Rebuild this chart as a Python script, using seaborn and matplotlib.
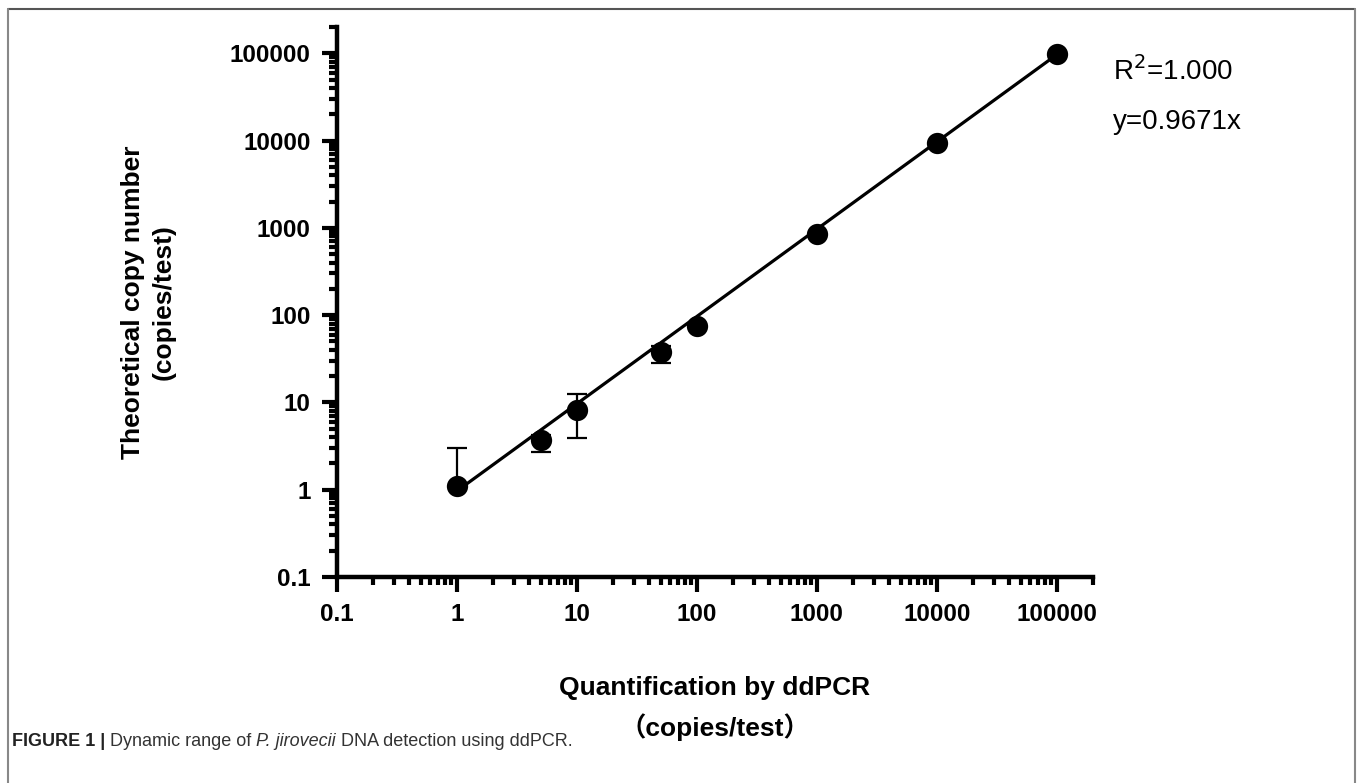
import numpy as np
import pandas as pd
import matplotlib
matplotlib.use("Agg")
import matplotlib.pyplot as plt
from matplotlib.lines import Line2D
from matplotlib.ticker import LogLocator, FixedLocator, NullFormatter
import seaborn as sns

# ---- data ----
x_vals = [1, 5, 10, 50, 100, 1000, 10000, 100000]
y_vals = [1.09, 3.67, 8.2, 38, 76, 850, 9300, 97000]
err_low = [0.0, 0.95, 4.3, 9.5, 0.0, 0.0, 0.0, 0.0]
err_high = [1.9, 0.6, 4.4, 6.0, 0.0, 0.0, 0.0, 0.0]
fit_slope = 0.9671
fit_range = [1, 100000]
tick_vals = [0.1, 1, 10, 100, 1000, 10000, 100000]
tick_labels = ["0.1", "1", "10", "100", "1000", "10000", "100000"]

sns.set_theme(style="white")
plt.rcParams['font.family'] = ['Liberation Sans', 'Noto Sans CJK SC', 'DejaVu Sans']
plt.rcParams['text.color'] = 'black'
plt.rcParams['axes.labelcolor'] = 'black'
plt.rcParams['xtick.color'] = 'black'
plt.rcParams['ytick.color'] = 'black'

df = pd.DataFrame({"x": x_vals, "y": y_vals})
fit_df = pd.DataFrame({"x": fit_range, "y": [fit_slope * v for v in fit_range]})

fig = plt.figure(figsize=(13.58, 7.83), dpi=100)
ax = fig.add_axes([337 / 1358, 1 - 577 / 783, (1093 - 337) / 1358, (577 - 27) / 783])

ax.set_xscale("log")
ax.set_yscale("log")

sns.lineplot(data=fit_df, x="x", y="y", ax=ax, color="black", linewidth=2.3, zorder=2)
ax.errorbar(x_vals, y_vals, yerr=[err_low, err_high], fmt="none", ecolor="black",
            elinewidth=1.6, capsize=7.5, capthick=1.6, zorder=3)
sns.scatterplot(data=df, x="x", y="y", ax=ax, color="black", s=235, edgecolor="black",
                linewidth=0, zorder=4, legend=False)

ax.set_xlim(0.1, 2e5)
ax.set_ylim(0.1, 2e5)

for axis in (ax.xaxis, ax.yaxis):
    axis.set_major_locator(FixedLocator(tick_vals))
    axis.set_minor_locator(LogLocator(base=10, subs=np.arange(2, 10), numticks=20))
    axis.set_minor_formatter(NullFormatter())
ax.set_xticks(tick_vals, tick_labels)
ax.set_yticks(tick_vals, tick_labels)
for lab in ax.get_xticklabels() + ax.get_yticklabels():
    lab.set_fontweight("bold")
    lab.set_fontsize(17.5)
    lab.set_color("black")

ax.tick_params(which="both", bottom=True, left=True, top=False, right=False)
ax.tick_params(which="major", direction="out", length=11, width=3, color="black", pad=8)
ax.tick_params(which="minor", direction="out", length=6, width=3, color="black")

for s in ("top", "right"):
    ax.spines[s].set_visible(False)
for s in ("left", "bottom"):
    ax.spines[s].set_linewidth(3.2)
    ax.spines[s].set_color("black")

ax.set_xlabel("")
ax.set_ylabel("")
fig.text(715 / 1358, 1 - 688 / 783, "Quantification by ddPCR", ha="center", va="center",
         fontsize=19, fontweight="bold")
fig.text(715 / 1358, 1 - 727 / 783, "（copies/test）", ha="center", va="center",
         fontsize=19, fontweight="bold")
fig.text(133 / 1358, 1 - 302 / 783, "Theoretical copy number", ha="center", va="center",
         fontsize=19, fontweight="bold", rotation=90)
fig.text(164 / 1358, 1 - 302 / 783, "(copies/test)", ha="center", va="center",
         fontsize=19, fontweight="bold", rotation=90)

fig.text(1113 / 1358, 1 - 80 / 783, r"R$^2$=1.000", ha="left", va="baseline", fontsize=20)
fig.text(1113 / 1358, 1 - 129 / 783, "y=0.9671x", ha="left", va="baseline", fontsize=20)

# caption
cap_y = 1 - 741 / 783
cap_fs = 13
t1 = fig.text(12 / 1358, cap_y, "FIGURE 1 | ", ha="left", va="center", fontsize=cap_fs,
              fontweight="bold", color="#222222")
fig.canvas.draw()
r = fig.canvas.get_renderer()
bb = t1.get_window_extent(r)
x0 = bb.x1 / fig.bbox.width
t2 = fig.text(x0, cap_y, "Dynamic range of ", ha="left", va="center", fontsize=cap_fs, color="#333333")
bb = t2.get_window_extent(r)
x0 = bb.x1 / fig.bbox.width
t3 = fig.text(x0, cap_y, "P. jirovecii", ha="left", va="center", fontsize=cap_fs,
              style="italic", color="#333333")
bb = t3.get_window_extent(r)
x0 = bb.x1 / fig.bbox.width
fig.text(x0, cap_y, " DNA detection using ddPCR.", ha="left", va="center", fontsize=cap_fs,
         color="#333333")

# figure frame (top, left, right)
fr_l, fr_r, fr_t = 8 / 1358, 1355 / 1358, 1 - 8.5 / 783
fig.add_artist(Line2D([fr_l, fr_r], [fr_t, fr_t], transform=fig.transFigure, color="#555555", lw=1.5))
fig.add_artist(Line2D([fr_l, fr_l], [0, fr_t], transform=fig.transFigure, color="#888888", lw=1.5))
fig.add_artist(Line2D([fr_r, fr_r], [0, fr_t], transform=fig.transFigure, color="#888888", lw=1.5))

fig.savefig("out.png", dpi=100)
